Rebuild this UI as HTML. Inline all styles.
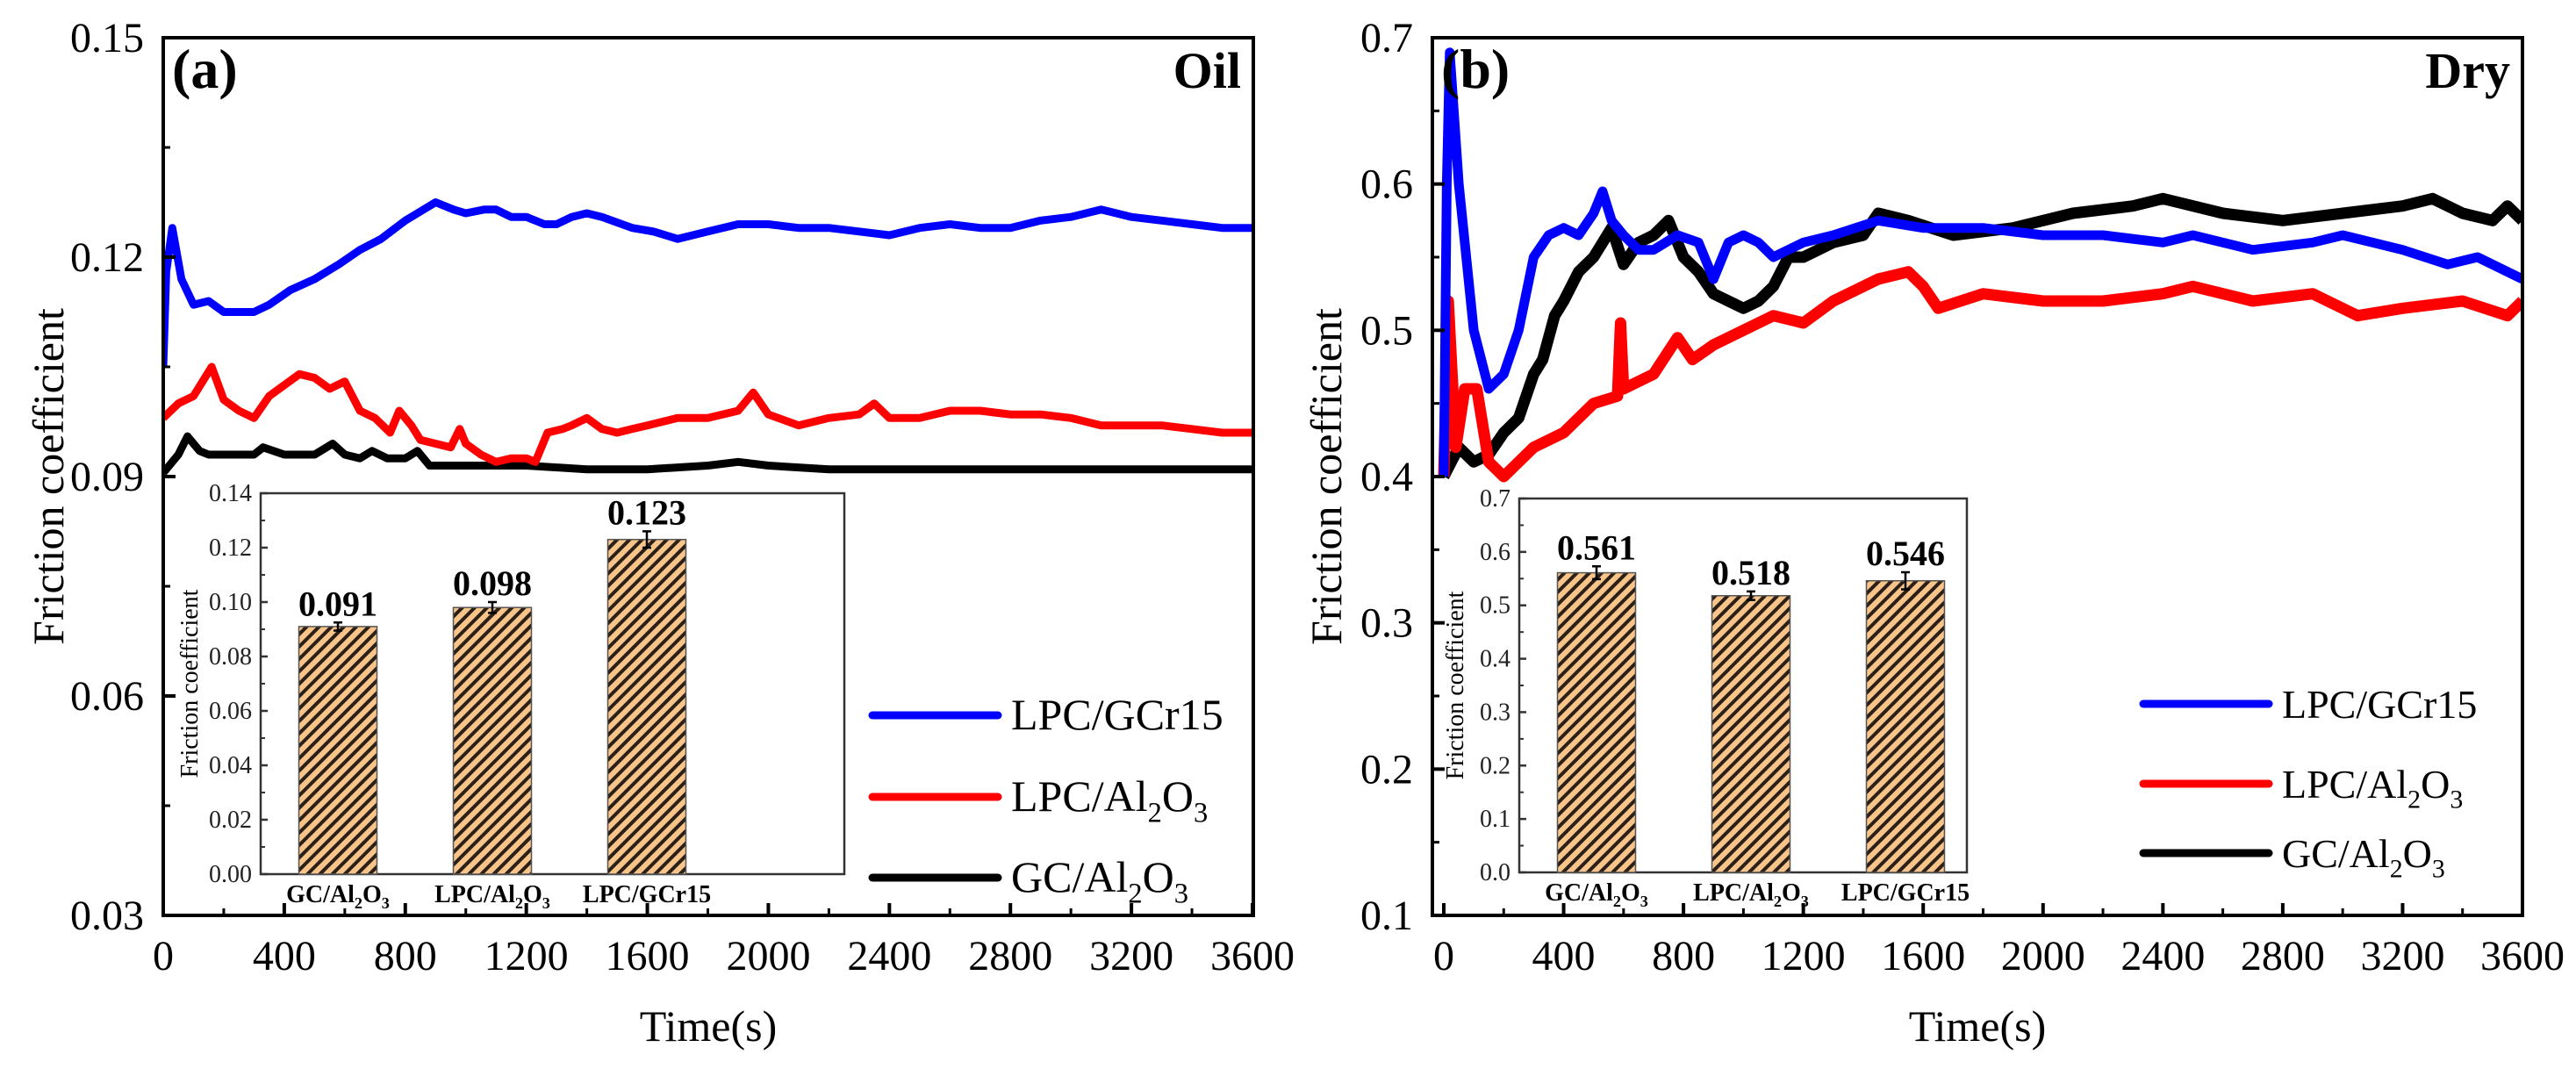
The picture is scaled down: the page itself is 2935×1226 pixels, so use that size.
<!DOCTYPE html>
<html><head><meta charset="utf-8">
<style>
html,body{margin:0;padding:0;background:#fff;}
svg{display:block;font-family:"Liberation Serif",serif;}
</style></head>
<body>
<svg id="fig" width="2935" height="1226" viewBox="0 0 2935 1226" xmlns="http://www.w3.org/2000/svg">
<defs>
<pattern id="hatch" patternUnits="userSpaceOnUse" width="10" height="10" patternTransform="rotate(45)">
<rect width="10" height="10" fill="#f8c489"/>
<rect x="0" y="0" width="4" height="10" fill="#2a2018"/>
</pattern>
<clipPath id="clipA"><rect x="186" y="43" width="1242" height="1000"/></clipPath>
<clipPath id="clipB"><rect x="1632" y="43" width="1242" height="1000"/></clipPath>
</defs>
<rect width="2935" height="1226" fill="#fff"/>
<g id="root"></g>
</svg>
<script>
// ---- Panel (a) Oil data ----
const oilBlueT = [0,10,30,60,100,150,200,300,350,420,500,580,650,720,800,860,900,960,1000,1060,1100,1150,1200,1260,1300,1350,1400,1450,1550,1620,1700,1800,1900,2000,2100,2200,2300,2400,2500,2600,2700,2800,2900,3000,3100,3200,3300,3400,3500,3600];
const oilBlueV = [0.105,0.118,0.124,0.117,0.1135,0.114,0.1125,0.1125,0.1135,0.1155,0.117,0.119,0.121,0.1225,0.125,0.1265,0.1275,0.1265,0.126,0.1265,0.1265,0.1255,0.1255,0.1245,0.1245,0.1255,0.126,0.1255,0.124,0.1235,0.1225,0.1235,0.1245,0.1245,0.124,0.124,0.1235,0.123,0.124,0.1245,0.124,0.124,0.125,0.1255,0.1265,0.1255,0.125,0.1245,0.124,0.124];
const oilRedT = [0,50,100,160,200,250,300,350,400,450,500,550,600,650,700,750,780,820,850,900,950,980,1000,1050,1100,1150,1200,1230,1270,1320,1350,1400,1450,1500,1550,1600,1700,1800,1900,1950,2000,2100,2200,2300,2350,2400,2500,2600,2700,2800,2900,3000,3100,3200,3300,3400,3500,3600];
const oilRedV = [0.098,0.100,0.101,0.105,0.1005,0.099,0.098,0.101,0.1025,0.104,0.1035,0.102,0.103,0.099,0.098,0.096,0.099,0.097,0.095,0.0945,0.094,0.0965,0.0945,0.093,0.092,0.0925,0.0925,0.092,0.096,0.0965,0.097,0.098,0.0965,0.096,0.0965,0.097,0.098,0.098,0.099,0.1015,0.0985,0.097,0.098,0.0985,0.100,0.098,0.098,0.099,0.099,0.0985,0.0985,0.098,0.097,0.097,0.097,0.0965,0.096,0.096];
const oilBlackT = [0,30,50,80,120,150,200,300,330,400,500,560,600,650,690,740,800,840,880,950,1200,1400,1600,1800,1900,2000,2200,2400,2600,2800,3000,3200,3400,3600];
const oilBlackV = [0.0905,0.092,0.093,0.0955,0.0935,0.093,0.093,0.093,0.094,0.093,0.093,0.0945,0.093,0.0925,0.0935,0.0925,0.0925,0.0935,0.0915,0.0915,0.0915,0.091,0.091,0.0915,0.092,0.0915,0.091,0.091,0.091,0.091,0.091,0.091,0.091,0.091];
// ---- Panel (b) Dry data ----
const dryBlueT = [0,10,20,50,100,150,200,250,300,350,400,450,500,530,560,600,650,700,780,850,900,950,1000,1050,1100,1200,1300,1450,1600,1800,2000,2200,2400,2500,2700,2900,3000,3100,3200,3350,3450,3600];
const dryBlueV = [0.40,0.60,0.69,0.60,0.50,0.46,0.47,0.50,0.55,0.565,0.57,0.565,0.58,0.595,0.575,0.565,0.555,0.555,0.565,0.56,0.535,0.56,0.565,0.56,0.55,0.56,0.565,0.575,0.57,0.57,0.565,0.565,0.56,0.565,0.555,0.56,0.565,0.56,0.555,0.545,0.55,0.535];
const dryBlackT = [0,50,100,150,200,250,300,330,370,400,450,500,560,600,650,700,750,800,850,900,950,1000,1050,1100,1150,1200,1300,1400,1450,1550,1700,1900,2100,2300,2400,2600,2800,3000,3200,3300,3400,3500,3550,3600];
const dryBlackV = [0.40,0.42,0.41,0.415,0.43,0.44,0.47,0.48,0.51,0.52,0.54,0.55,0.57,0.545,0.56,0.565,0.575,0.55,0.54,0.525,0.52,0.515,0.52,0.53,0.55,0.55,0.56,0.565,0.58,0.575,0.565,0.57,0.58,0.585,0.59,0.58,0.575,0.58,0.585,0.59,0.58,0.575,0.585,0.575];
const dryRedT = [0,15,40,70,110,150,200,300,400,500,580,590,600,700,780,830,900,1000,1100,1200,1300,1450,1550,1600,1650,1800,2000,2200,2400,2500,2700,2900,3050,3200,3400,3550,3600];
const dryRedV = [0.40,0.52,0.42,0.46,0.46,0.41,0.40,0.42,0.43,0.45,0.455,0.505,0.46,0.47,0.495,0.48,0.49,0.50,0.51,0.505,0.52,0.535,0.54,0.53,0.515,0.525,0.52,0.52,0.525,0.53,0.52,0.525,0.51,0.515,0.52,0.51,0.52];
// ---- Inset bar data ----
const barCats = ["GC/Al2O3","LPC/Al2O3","LPC/GCr15"];
const oilBarVals = [0.091,0.098,0.123];
const oilBarErr = [0.0015,0.002,0.003];
const dryBarVals = [0.561,0.518,0.546];
const dryBarErr = [0.012,0.008,0.016];
const oilYTicks = [0.03,0.06,0.09,0.12,0.15];
const dryYTicks = [0.1,0.2,0.3,0.4,0.5,0.6,0.7];
const xTicks = [0,400,800,1200,1600,2000,2400,2800,3200,3600];
const oilInsetTicks = [0,0.02,0.04,0.06,0.08,0.10,0.12,0.14];
const dryInsetTicks = [0,0.1,0.2,0.3,0.4,0.5,0.6,0.7];

const NS="http://www.w3.org/2000/svg";
const root=document.getElementById('root');
function mk(tag,attrs,parent){const e=document.createElementNS(NS,tag);for(const k in attrs)e.setAttribute(k,attrs[k]);(parent||root).appendChild(e);return e;}
function lin(d0,d1,r0,r1){return v=>r0+(v-d0)/(d1-d0)*(r1-r0);}
function chemText(parent,x,y,label,size,weight,anchor){
  const t=mk('text',{x:x,y:y,'font-size':size,'font-weight':weight,'text-anchor':anchor||'start',fill:'#000'},parent);
  const m=label.match(/^(.*)Al2O3$/);
  if(m){
    const a=mk('tspan',{},t);a.textContent=m[1]+'Al';
    const s1=mk('tspan',{'font-size':size*0.65,dy:size*0.25},t);s1.textContent='2';
    const o=mk('tspan',{dy:-size*0.25},t);o.textContent='O';
    const s2=mk('tspan',{'font-size':size*0.65,dy:size*0.25},t);s2.textContent='3';
  } else t.textContent=label;
  return t;
}

function panel(cfg){
  const g=mk('g',{});
  
  
  const X=lin(0,3600,cfg.x0,cfg.x1), Y=lin(cfg.ymin,cfg.ymax,1043,43);
  const sg=mk('g',{'clip-path':'url(#'+cfg.clip+')'},g);
  cfg.series.forEach(s=>{
    const p=mk('polyline',{points:s.t.map((t,i)=>X(t).toFixed(1)+','+Y(s.v[i]).toFixed(1)).join(' '),fill:'none',stroke:s.color,'stroke-width':s.w,'stroke-linejoin':'round'},sg);
    
    
  });
  const fr=mk('rect',{x:cfg.fl,y:43,width:cfg.fr-cfg.fl,height:1000,fill:'none',stroke:'#000','stroke-width':4},g);
  
  
  const step=cfg.yTicks[1]-cfg.yTicks[0];
  cfg.yTicks.forEach((v,i)=>{
    mk('line',{x1:cfg.fl,x2:cfg.fl+14,y1:Y(v),y2:Y(v),stroke:'#000','stroke-width':4},g);
    if(i<cfg.yTicks.length-1) mk('line',{x1:cfg.fl,x2:cfg.fl+8,y1:Y(v+step/2),y2:Y(v+step/2),stroke:'#000','stroke-width':3},g);
    const t=mk('text',{x:cfg.fl-22,y:Y(v)+16,'font-size':48,'text-anchor':'end'},g);
    t.textContent=cfg.fmt(v);
    
    
  });
  xTicks.forEach((v,i)=>{
    mk('line',{x1:X(v),x2:X(v),y1:1043,y2:1029,stroke:'#000','stroke-width':4},g);
    if(i<xTicks.length-1) mk('line',{x1:X(v+200),x2:X(v+200),y1:1043,y2:1035,stroke:'#000','stroke-width':3},g);
    const t=mk('text',{x:X(v),y:1105,'font-size':48,'text-anchor':'middle'},g);
    t.textContent=v;
    
    
  });
  const xt=mk('text',{x:(cfg.fl+cfg.fr)/2,y:1186,'font-size':50,'text-anchor':'middle'},g);
  xt.textContent='Time(s)';
  
  
  const yt=mk('text',{x:0,y:0,'font-size':50,'text-anchor':'middle',transform:'translate('+cfg.ytx+',543) rotate(-90)'},g);
  yt.textContent='Friction coefficient';
  
  
  const pl=mk('text',{x:cfg.fl+10,y:100,'font-size':64,'font-weight':'bold'},g);
  pl.textContent=cfg.label;
  
  
  const cd=mk('text',{x:cfg.fr-14,y:100,'font-size':58,'font-weight':'bold','text-anchor':'end'},g);
  cd.textContent=cfg.cond;
  
  
  cfg.legend.forEach((l,i)=>{
    const lg=mk('g',{},g);
    
    
    mk('line',{x1:cfg.lgx,x2:cfg.lgx+143,y1:l.y,y2:l.y,stroke:l.color,'stroke-width':9,'stroke-linecap':'round'},lg);
    chemText(lg,cfg.lgx+158,l.y+16,l.text,cfg.lgSize,'normal');
  });
  const ins=cfg.inset;
  const ig=mk('g',{},g);
  
  
  const IY=lin(0,ins.max,ins.b,ins.t);
  mk('rect',{x:ins.l,y:ins.t,width:ins.r-ins.l,height:ins.b-ins.t,fill:'#fff',stroke:'#333','stroke-width':2.5},ig);
  const istep=ins.ticks[1]-ins.ticks[0];
  ins.ticks.forEach((v,i)=>{
    mk('line',{x1:ins.l,x2:ins.l+8,y1:IY(v),y2:IY(v),stroke:'#333','stroke-width':2.5},ig);
    if(i<ins.ticks.length-1) mk('line',{x1:ins.l,x2:ins.l+5,y1:IY(v+istep/2),y2:IY(v+istep/2),stroke:'#333','stroke-width':2},ig);
    const t=mk('text',{x:ins.l-10,y:IY(v)+9,'font-size':28,'text-anchor':'end',fill:'#222'},ig);
    t.textContent=ins.fmt(v);
    
    
  });
  const iyt=mk('text',{x:0,y:0,'font-size':28,'text-anchor':'middle',transform:'translate('+(ins.l-ins.titleOff)+','+((ins.t+ins.b)/2)+') rotate(-90)'},ig);
  iyt.textContent='Friction coefficient';
  
  
  ins.vals.forEach((v,i)=>{
    const cx=ins.l+ins.first+i*ins.gap, w=89;
    const b=mk('rect',{x:cx-w/2,y:IY(v),width:w,height:ins.b-IY(v),fill:'url(#hatch)',stroke:'#555','stroke-width':1.5},ig);
    
    
    const e=ins.err[i];
    mk('path',{d:`M${cx},${IY(v+e)}V${IY(v-e)}M${cx-5},${IY(v+e)}H${cx+5}M${cx-5},${IY(v-e)}H${cx+5}`,stroke:'#000','stroke-width':2.5,fill:'none'},ig);
    const vl=mk('text',{x:cx,y:IY(v+e)-8,'font-size':40,'font-weight':'bold','text-anchor':'middle'},ig);
    vl.textContent=ins.vf(v);
    
    
    const cl=chemText(ig,cx,ins.b+32,barCats[i],28,'bold','middle');
    
    
  });
}

panel({name:'panel-a-oil',x0:186,x1:1427,fl:186,fr:1428,ymin:0.03,ymax:0.15,clip:'clipA',yTicks:oilYTicks,fmt:v=>v.toFixed(2),ytx:72,label:'(a)',cond:'Oil',
  series:[{name:'series-gc-al2o3',t:oilBlackT,v:oilBlackV,color:'#000',w:9},{name:'series-lpc-al2o3',t:oilRedT,v:oilRedV,color:'#f00',w:9},{name:'series-lpc-gcr15',t:oilBlueT,v:oilBlueV,color:'#00f',w:9}],
  legend:[{y:815,color:'#00f',text:'LPC/GCr15'},{y:908,color:'#f00',text:'LPC/Al2O3'},{y:1000,color:'#000',text:'GC/Al2O3'}],lgx:994,lgSize:50,
  inset:{l:297,r:962,t:562,b:996,max:0.14,ticks:oilInsetTicks,fmt:v=>v.toFixed(2),vals:oilBarVals,err:oilBarErr,vf:v=>v.toFixed(3),first:88,gap:176,titleOff:72}});

panel({name:'panel-b-dry',x0:1645,x1:2874,fl:1632,fr:2874,ymin:0.1,ymax:0.7,clip:'clipB',yTicks:dryYTicks,fmt:v=>v.toFixed(1),ytx:1528,label:'(b)',cond:'Dry',
  series:[{name:'series-gc-al2o3',t:dryBlackT,v:dryBlackV,color:'#000',w:13},{name:'series-lpc-al2o3',t:dryRedT,v:dryRedV,color:'#f00',w:13},{name:'series-lpc-gcr15',t:dryBlueT,v:dryBlueV,color:'#00f',w:11}],
  legend:[{y:802,color:'#00f',text:'LPC/GCr15'},{y:893,color:'#f00',text:'LPC/Al2O3'},{y:972,color:'#000',text:'GC/Al2O3'}],lgx:2442,lgSize:46,
  inset:{l:1731,r:2241,t:568,b:994,max:0.7,ticks:dryInsetTicks,fmt:v=>v.toFixed(1),vals:dryBarVals,err:dryBarErr,vf:v=>v.toFixed(3),first:88,gap:176,titleOff:64}});
</script>
</body></html>
